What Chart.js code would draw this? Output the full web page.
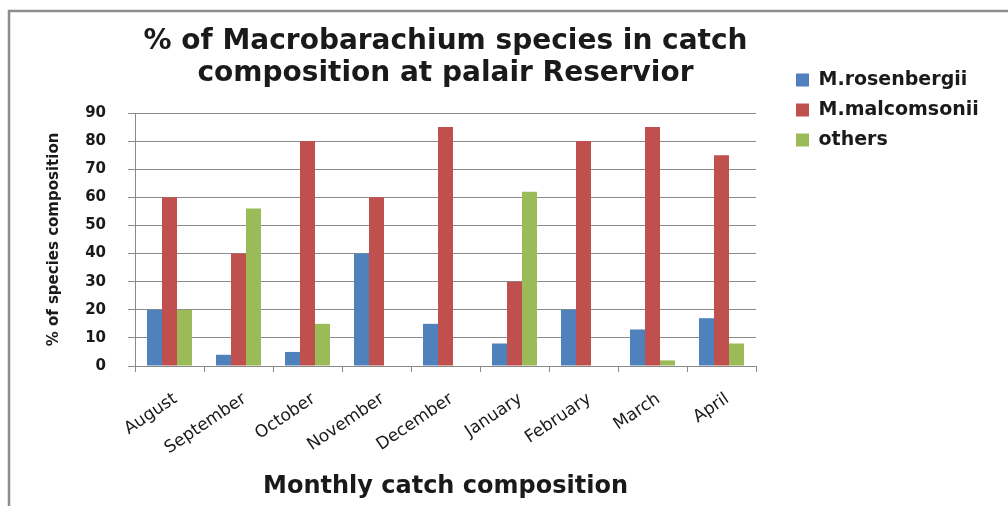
<!DOCTYPE html>
<html>
<head>
<meta charset="utf-8">
<script src="https://cdn.jsdelivr.net/npm/chart.js@4.4.1/dist/chart.umd.min.js"></script>
<style>
  html, body { margin: 0; padding: 0; background: #ffffff; }
  #wrap { width: 1008px; height: 506px; position: relative; }
</style>
</head>
<body>
<div id="wrap"><canvas id="c" width="1008" height="506"></canvas></div>
<script>
// ---- data ----
const months = ['August', 'September', 'October', 'November', 'December', 'January', 'February', 'March', 'April'];
const rosenbergii = [20, 4, 5, 40, 15, 8, 20, 13, 17];
const malcomsonii = [60, 40, 80, 60, 85, 30, 80, 85, 75];
const others = [20, 56, 15, 0, 0, 62, 0, 2, 8];
const seriesNames = ['M.rosenbergii', 'M.malcomsonii', 'others'];
const titleLines = ['% of Macrobarachium species in catch', 'composition at palair Reservior'];
const xTitle = 'Monthly catch composition';
const yTitle = '% of species composition';

// ---- style ----
const COLORS = ['#4F81BD', '#C0504D', '#9BBB59'];
const GRID = '#8a8a8a';
const TEXT = '#1a1a1a';
const LEGEND_WIDTH = 252;
const LEGEND_INSET = 29;

const frame = {
  id: 'frame',
  beforeDraw(chart) {
    const ctx = chart.ctx;
    ctx.save();
    ctx.fillStyle = '#ffffff';
    ctx.fillRect(0, 0, chart.width, chart.height);
    ctx.strokeStyle = '#8c8c8c';
    ctx.lineWidth = 2.5;
    ctx.beginPath();
    ctx.moveTo(9, chart.height + 2);
    ctx.lineTo(9, 11);
    ctx.lineTo(chart.width + 2, 11);
    ctx.stroke();
    ctx.restore();
  }
};

const legendShift = {
  id: 'legendShift',
  beforeLayout(chart) {
    const lg = chart.legend;
    if (!lg || lg.__shifted) return;
    lg.__shifted = true;
    const fit = lg.fit.bind(lg);
    const draw = lg.draw.bind(lg);
    lg.fit = function () { fit(); this.width = LEGEND_WIDTH; };
    lg.draw = function (a) { this.left += LEGEND_INSET; draw(a); this.left -= LEGEND_INSET; };
  }
};

new Chart(document.getElementById('c'), {
  type: 'bar',
  data: {
    labels: months,
    datasets: [
      { label: seriesNames[0], data: rosenbergii, backgroundColor: COLORS[0] },
      { label: seriesNames[1], data: malcomsonii, backgroundColor: COLORS[1] },
      { label: seriesNames[2], data: others, backgroundColor: COLORS[2] }
    ]
  },
  options: {
    responsive: false,
    animation: false,
    devicePixelRatio: 1,
    layout: { padding: { left: 0, right: 0, top: 0, bottom: 0 } },
    datasets: { bar: { categoryPercentage: 0.652, barPercentage: 1.0, borderWidth: 0 } },
    plugins: {
      title: {
        display: true,
        text: titleLines,
        fullSize: false,
        color: TEXT,
        font: { family: 'DejaVu Sans', size: 28, weight: 'bold', lineHeight: 32 / 28 },
        padding: { top: 26, bottom: 23 }
      },
      legend: {
        display: true,
        position: 'right',
        align: 'start',
        title: { display: true, text: ' ', font: { size: 12, lineHeight: 1.2 }, padding: { top: 45.1, bottom: 0 } },
        labels: {
          boxWidth: 13, boxHeight: 13, padding: 11, color: TEXT,
          font: { family: 'DejaVu Sans', size: 19, weight: 'bold' }
        }
      },
      tooltip: { enabled: false }
    },
    scales: {
      x: {
        offset: true,
        afterFit(s) { s.height = 140; },
        grid: { display: true, drawOnChartArea: false, drawTicks: true, offset: true, tickLength: 6, color: GRID },
        border: { display: true, color: GRID, width: 1 },
        ticks: {
          color: TEXT, minRotation: 34, maxRotation: 34, padding: 17, labelOffset: 6, autoSkip: false,
          font: { family: 'DejaVu Sans', size: 17 }
        },
        title: {
          display: true, text: xTitle, color: TEXT,
          font: { family: 'DejaVu Sans', size: 24, weight: 'bold', lineHeight: 1.2 },
          padding: { top: 0, bottom: 5 }
        }
      },
      y: {
        min: 0, max: 90,
        afterFit(s) { s.width = 135; },
        grid: { color: GRID, lineWidth: 1, tickLength: 7, drawTicks: true },
        border: { display: true, color: GRID, width: 1 },
        ticks: {
          stepSize: 10, color: TEXT, padding: 22,
          font: { family: 'DejaVu Sans', size: 15, weight: 'bold' }
        },
        title: {
          display: true, text: yTitle, color: TEXT,
          font: { family: 'DejaVu Sans', size: 15, weight: 'bold', lineHeight: 1.2 },
          padding: { top: 45, bottom: 0 }
        }
      }
    }
  },
  plugins: [frame, legendShift]
});
</script>
</body>
</html>
